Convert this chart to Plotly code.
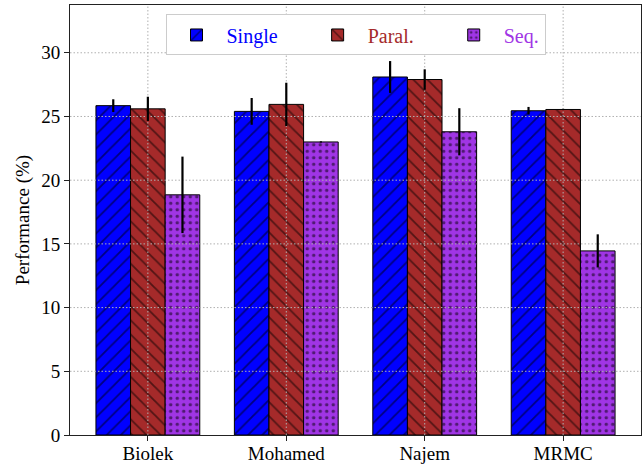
import plotly.graph_objects as go

categories = ["Biolek", "Mohamed", "Najem", "MRMC"]
single = [25.85, 25.4, 28.1, 25.45]
single_err = [0.5, 1.05, 1.25, 0.3]
paral = [25.6, 25.95, 27.9, 25.55]
paral_err = [0.95, 1.7, 0.8, 0.05]
seq = [18.85, 23.0, 23.8, 14.45]
seq_err = [3.0, 0.05, 1.85, 1.3]
yticks = [0, 5, 10, 15, 20, 25, 30]

FONT = "Liberation Serif"
BAR_W = 0.25
XR = [-0.5625, 3.5625]
YR = [0, 33.75]
series = [
    ("Single", single, single_err, "#0000FF", "/", -BAR_W, "&nbsp;" * 5),
    ("Paral.", paral, paral_err, "#A52A2A", "\\", 0.0, "&nbsp;" * 5),
    ("Seq.", seq, seq_err, "#A035E5", ".", BAR_W, ""),
]
xpos = list(range(len(categories)))

fig = go.Figure()
# bars
for name, vals, errs, col, shape, off, pad in series:
    fig.add_trace(go.Bar(
        x=[i + off for i in xpos], y=vals, width=BAR_W,
        name=f"<span style='color:{col}'>{name}</span>{pad}",
        marker=dict(color=col, line=dict(color="black", width=1),
                    pattern=dict(shape=shape, fgcolor="black", bgcolor=col,
                                 size=10 if shape != "." else 6.5,
                                 solidity=0.18 if shape != "." else 0.22,
                                 fillmode="overlay")),
    ))

# grid (drawn above bars, below error bars, like the original)
gx, gy = [], []
for i in xpos:
    gx += [i, i, None]
    gy += [YR[0], YR[1], None]
for t in yticks[1:]:
    gx += [XR[0], XR[1], None]
    gy += [t, t, None]
fig.add_trace(go.Scatter(x=gx, y=gy, mode="lines", showlegend=False, hoverinfo="skip",
                         line=dict(color="#b0b0b0", width=1, dash="1.5px,2px")))

# error bars
for name, vals, errs, col, shape, off, pad in series:
    fig.add_trace(go.Scatter(
        x=[i + off for i in xpos], y=vals, mode="markers", showlegend=False,
        marker=dict(size=1, opacity=0), hoverinfo="skip",
        error_y=dict(type="data", array=errs, symmetric=True, color="black",
                     thickness=2.2, width=0),
    ))

fig.update_layout(
    width=644, height=464,
    margin=dict(l=70, r=3, t=5, b=29),
    plot_bgcolor="white", paper_bgcolor="white",
    barmode="overlay",
    font=dict(family=FONT, size=19, color="black"),
    showlegend=True,
    legend=dict(orientation="h", x=0.5, xanchor="center", y=0.978, yanchor="top",
                bgcolor="white", bordercolor="#cccccc", borderwidth=1,
                font=dict(family=FONT, size=20), itemwidth=50,
                traceorder="normal"),
    xaxis=dict(range=XR, tickvals=xpos, ticktext=categories, showgrid=False,
               showline=True, mirror=True, zeroline=False, automargin=False,
               linecolor="#222222", linewidth=1, ticks="outside", ticklen=5,
               tickcolor="#222222", ticklabelstandoff=-4,
               tickfont=dict(family=FONT, size=19)),
    yaxis=dict(range=YR, tickvals=yticks, showgrid=False, showline=True,
               mirror=True, linecolor="#222222", linewidth=1, ticks="outside",
               ticklen=5, tickcolor="#222222", zeroline=False, automargin=False,
               tickfont=dict(family=FONT, size=19),
               title=dict(text="Performance (%)", font=dict(family=FONT, size=19),
                          standoff=6)),
)

fig.write_html("out.html")
